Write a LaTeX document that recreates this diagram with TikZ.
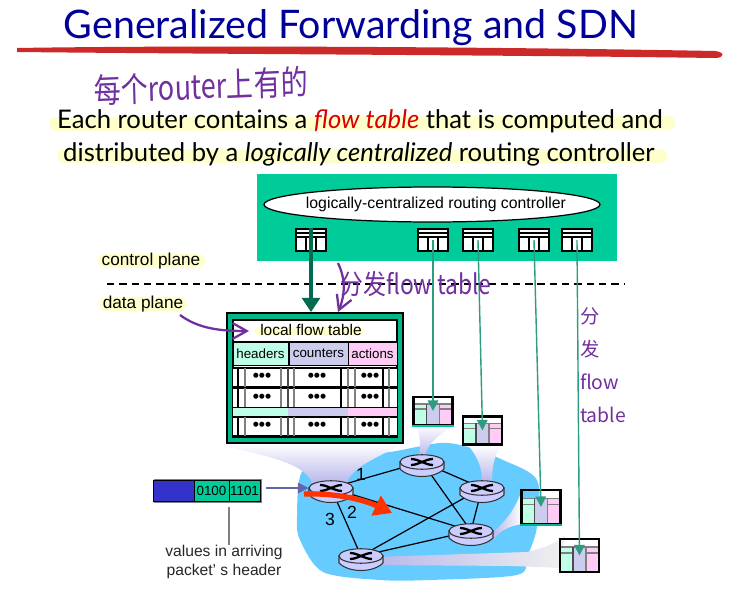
\documentclass[tikz,border=0pt]{standalone}
\usepackage{fontspec}
\setmainfont{Liberation Sans}
\newfontfamily\slidefont{Lato}
\newfontfamily\handfont{Noto Sans CJK SC}
\usepackage{xcolor}
\definecolor{titleblue}{RGB}{0,0,153}
\definecolor{strokered}{RGB}{204,41,41}
\definecolor{ctrlgreen}{RGB}{0,204,153}
\definecolor{flowgreen}{RGB}{0,183,138}
\definecolor{darkgreen}{RGB}{0,107,79}
\definecolor{thingreen}{RGB}{46,156,128}
\definecolor{mint}{RGB}{191,255,232}
\definecolor{lavender}{RGB}{204,204,238}
\definecolor{pinkcell}{RGB}{255,204,245}
\definecolor{cloudblue}{RGB}{102,204,255}
\definecolor{routerfill}{RGB}{204,204,255}
\definecolor{funnel}{RGB}{184,184,236}
\definecolor{marker}{RGB}{255,255,204}
\definecolor{hand}{RGB}{112,48,160}
\definecolor{pktblue}{RGB}{51,51,204}
\definecolor{flowred}{RGB}{255,51,0}
\usepackage{tikz}
\usetikzlibrary{
    shapes.geometric,
    arrows.meta,
    positioning,
    calc
}
\pgfdeclarelayer{cloud}
\pgfdeclarelayer{links}
\pgfsetlayers{cloud,links,main}

\begin{document}
\begin{tikzpicture}[
        x=0.02cm, y=0.02cm,
        slide/.style={font=\slidefont\fontsize{#1}{#1}\selectfont, inner sep=0},
        label/.style={font=\fontsize{#1}{#1}\selectfont, inner sep=0},
        highlight/.style={line width=8pt, line cap=round, marker},
        handtext/.style={font=\handfont\fontsize{#1}{#1}\selectfont, text=hand, inner sep=0},
        handarrow/.style={-{Straight Barb[length=8pt,width=9pt]}, line width=1.3pt, hand},
        headcell/.style={draw=black, inner sep=0, minimum height=0.46cm, font=\fontsize{7.6}{9}\selectfont},
        pktcell/.style={draw=black, fill=ctrlgreen, inner sep=0, minimum height=0.42cm, font=\fontsize{7.6}{9}\selectfont},
        push/.style={-{Triangle[length=6pt,width=6pt]}, line width=0.8pt, thingreen},
        link/.style={line width=0.7pt, black},
        ctrltable/.pic={
            \node[draw=black, fill=white, line width=0.7pt, inner sep=0, minimum width=0.6cm, minimum height=0.44cm] (-box) {};
            \draw[line width=0.7pt] (-15,7) -- (15,7);
            \draw[line width=0.7pt] (-15,3) -- (15,3);
            \draw[line width=0.7pt] (-5,3) -- (-5,-11);
            \draw[line width=0.7pt] (5,3) -- (5,-11);
        },
        smalltable/.pic={
            \fill[mint] (-19.5,7) rectangle (-6.5,-14);
            \fill[lavender] (-6.5,7) rectangle (6.5,-14);
            \fill[pinkcell] (6.5,7) rectangle (19.5,-14);
            \draw[gray, line width=0.8pt] (-19.5,7) -- (19.5,7);
            \draw[gray, line width=0.8pt] (-19.5,2) -- (-6.5,2);
            \draw[gray, line width=0.8pt] (6.5,2) -- (19.5,2);
            \draw[black!70, line width=0.8pt] (-6.5,7) -- (-6.5,-14);
            \draw[gray, line width=0.8pt] (6.5,7) -- (6.5,-14);
            \node[draw=black, line width=1.3pt, transform shape, inner sep=0, minimum width=0.78cm, minimum height=0.56cm] (-box) {};
        },
        flowrow/.pic={
            \fill[white] (0,0) rectangle (164,-19);
            \draw[black, line width=0.9pt] (0,0) -- (164,0);
            \draw[black, line width=0.9pt] (0,-19) -- (164,-19);
            \draw[black, line width=0.7pt] (5,0) -- (5,-19);
            \draw[gray, line width=1pt] (12,0) -- (12,-19);
            \draw[gray, line width=1pt] (48,0) -- (48,-19);
            \draw[black!70, line width=1pt] (55,0) -- (55,-19);
            \draw[gray, line width=0.7pt] (61,0) -- (61,-19);
            \draw[black, line width=0.7pt] (108,0) -- (108,-19);
            \draw[gray, line width=1pt] (115,0) -- (115,-19);
            \draw[gray, line width=1pt] (122,0) -- (122,-19);
            \draw[black, line width=0.7pt] (150,0) -- (150,-19);
            \draw[gray, line width=1pt] (156,0) -- (156,-19);
            \node[label=10, font=\bfseries\fontsize{10}{10}\selectfont] (-a) at (29,-9.5) {•••};
            \node[label=10, font=\bfseries\fontsize{10}{10}\selectfont] (-b) at (84,-9.5) {•••};
            \node[label=10, font=\bfseries\fontsize{10}{10}\selectfont] (-c) at (137,-9.5) {•••};
        },
        router/.pic={
            \draw[fill=routerfill, draw=black!80, line width=0.6pt] (-22,0) -- (-22,-7) .. controls (-12,-17) and (12,-17) .. (22,-7) -- (22,0) -- cycle;
            \node[ellipse, draw=black!80, fill=routerfill, line width=0.6pt, inner sep=0, minimum width=0.88cm, minimum height=0.29cm] (-top) {};
            \draw[line width=1.3pt] (-11,3) .. controls (-3,3) and (3,-3) .. (11,-3);
            \draw[line width=1.3pt] (-11,-3) .. controls (-3,-3) and (3,3) .. (11,3);
        }
    ]
        \useasboundingbox (0,0) rectangle (735,-598);

        % heading
        \fill[strokered] (17,-48) .. controls (200,-45) and (500,-47) .. (715,-51) .. controls (725,-52) and (725,-58) .. (715,-58) .. controls (500,-55) and (200,-54) .. (17,-52) -- cycle;
        \node[slide=22.4, text=titleblue] (title) at (351,-28) {Generalized Forwarding and SDN};

        % marker strokes under the text
        \draw[highlight] (56,-124) -- (668,-123);
        \draw[highlight] (64,-156) -- (660,-156);
        \draw[highlight] (105,-261) -- (198,-261);
        \draw[highlight] (106,-304) -- (180,-304);

        \node[slide=14.6] (lineone) at (360,-121) {Each router contains a \textcolor{red!85!black}{\itshape flow table} that is computed and};
        \node[slide=14.6] (linetwo) at (359,-154) {distributed by a {\itshape logically centralized} routing controller};
        \node[handtext=15.4, yscale=1.25, transform shape, rotate=2] (eachnote) at (201,-86) {每个router上有的};

        % controller box
        \node[fill=ctrlgreen, inner sep=0, minimum width=7.2cm, minimum height=1.74cm] (ctrlbox) at (437,-217.5) {};
        \node[ellipse, draw=black, fill=white, line width=0.7pt, inner sep=0, minimum width=6.72cm, minimum height=0.7cm] (ctrl) at (432,-204.5) {};
        \node[label=9] (ctrltext) at (436,-204) {logically-centralized routing controller};

        \pic (cone) at (311,-240) {ctrltable};
        \pic (ctwo) at (433,-240) {ctrltable};
        \pic (cthree) at (478,-240) {ctrltable};
        \pic (cfour) at (534,-240) {ctrltable};
        \pic (cfive) at (577,-240) {ctrltable};

        % plane labels
        \node[label=9.8] (ctrlplane) at (151,-261) {control plane};
        \node[label=9.8] (dataplane) at (143,-304) {data plane};
        \coordinate (dashleft) at (107,-284);
        \coordinate (dashright) at (624,-284);
        \draw[dashed, dash pattern=on 4.2pt off 2.8pt, line width=0.6pt] (dashleft) -- (dashright);

        % local flow table
        \node[draw=black, fill=flowgreen, line width=1.1pt, inner sep=0, minimum width=3.52cm, minimum height=2.6cm] (flowbox) at (315,-378) {};
        \node[draw=black, fill=white, line width=1.1pt, inner sep=0, minimum width=3.28cm, minimum height=2.34cm] (flowinner) at (315,-378.5) {};
        \draw[highlight, line width=5pt] (259,-331) -- (360,-331);
        \node[label=8.8] (localtitle) at (311,-330) {local flow table};
        \draw[line width=0.8pt] (233,-341.5) -- (397,-341.5);
        \node[headcell, fill=mint, minimum width=1.1cm] (headers) at (260.5,-353.5) {headers};
        \node[headcell, fill=lavender, minimum width=1.18cm] (counters) at (318.5,-353.5) {counters};
        \node[headcell, fill=pinkcell, minimum width=0.98cm] (actions) at (372.5,-353.5) {actions};
        \pic (rowone) at (233,-368) {flowrow};
        \pic (rowtwo) at (233,-388.5) {flowrow};
        \fill[mint] (233,-408) rectangle (288,-417);
        \fill[lavender] (288,-408) rectangle (348,-417);
        \fill[pinkcell] (348,-408) rectangle (397,-417);
        \pic (rowthree) at (233,-417) {flowrow};

        % tables at the other routers
        \pic (ttwo) at (433,-411) {smalltable};
        \pic (tthree) at (482.5,-430.5) {smalltable};
        \pic[yscale=1.2, transform shape] (tfour) at (541,-507) {smalltable};
        \pic[yscale=1.2, transform shape] (tfive) at (579.5,-555.5) {smalltable};
        \draw[ctrlgreen, line width=1pt] (ttwo-box.south west) -- (ttwo-box.south east);
        \draw[flowgreen, line width=1pt] (tfour-box.south west) -- (tfour-box.south east);

        % network
        \begin{pgfonlayer}{cloud}
            \fill[cloudblue] plot[smooth cycle] coordinates {(297,-517) (303,-470) (345,-456) (390,-452) (440,-443) (468,-447) (503,-460) (537,-480) (537,-527) (527,-557) (517,-575) (430,-580) (380,-580) (323,-572) (300,-540)};
            \shade[top color=white, bottom color=funnel] (213,-443) .. controls (260,-455) and (305,-462) .. (312,-483) -- (347,-483) .. controls (352,-465) and (385,-455) .. (403,-443) -- cycle;
            \shade[top color=white, bottom color=funnel] (416,-425) .. controls (420,-435) and (421,-445) .. (419,-456) -- (425,-456) .. controls (428,-442) and (440,-435) .. (452,-426) -- cycle;
            \shade[top color=white, bottom color=funnel] (468,-445) .. controls (476,-455) and (482,-465) .. (482,-481) -- (492,-481) .. controls (492,-465) and (495,-455) .. (501,-445) -- cycle;
            \shade[left color=funnel, right color=white] (493,-532) .. controls (505,-522) and (515,-510) .. (522,-490) -- (522,-524) .. controls (510,-526) and (500,-530) .. (493,-540) -- cycle;
            \shade[left color=funnel, right color=gray!12] (375,-557) -- (527,-552) .. controls (545,-548) and (558,-542) .. (565,-535) -- (560,-568) -- (513,-566) -- (375,-565) -- cycle;
        \end{pgfonlayer}

        \pic (rleft) at (331,-488) {router};
        \pic (rtop) at (422,-462) {router};
        \pic (rright) at (482,-488) {router};
        \pic (rmid) at (471,-531) {router};
        \pic (rbot) at (361,-556) {router};

        \begin{pgfonlayer}{links}
            \draw[link] (rleft-top.center) -- (rtop-top.center);
            \draw[link] (rleft-top.center) -- (rmid-top.center);
            \draw[link] (rleft-top.center) -- (rbot-top.center);
            \draw[link] (rtop-top.center) -- (rright-top.center);
            \draw[link] (rtop-top.center) -- (rmid-top.center);
            \draw[link] (rright-top.center) -- (rmid-top.center);
            \draw[link] (rright-top.center) -- (rbot-top.center);
            \draw[link] (rmid-top.center) -- (rbot-top.center);
        \end{pgfonlayer}

        \node[label=10] (portone) at (361,-474) {1};
        \node[label=10] (porttwo) at (352,-512) {2};
        \node[label=10] (portthree) at (330,-519) {3};

        % packet
        \node[fill=gray, inner sep=0, minimum width=2.18cm, minimum height=0.48cm] (pktback) at (208,-491) {};
        \node[draw=black, fill=pktblue, inner sep=0, minimum width=0.82cm, minimum height=0.42cm] (pktblue) at (174,-491) {};
        \node[pktcell, minimum width=0.7cm] (pktone) at (211.5,-491) {0100};
        \node[pktcell, minimum width=0.62cm] (pkttwo) at (244.5,-491) {1101};
        \node[label=8.9, align=center, text=black!85, font=\fontsize{8.9}{10.8}\selectfont] (values) at (224,-562) {values in arriving\\packet’ s header};
        \draw[gray, line width=1.2pt] ([yshift=-3pt]pktone.south east) -- (pktone.south east |- values.north);

        % arrows
        \draw[-{Triangle[length=6pt,width=6pt]}, line width=0.9pt, black!35!pktblue!70!white] (pktback.east) ++(3,3) coordinate (pktout) -- (pktout -| rleft-top.west);
        \draw[-{Triangle[length=10pt,width=12pt]}, line width=3pt, flowred] (304,-494) coordinate (flowstart) .. controls (335,-493) and (362,-499) .. (392,-513) coordinate (flowend);

        \draw[-{Triangle[length=8pt,width=10pt]}, line width=2.8pt, darkgreen] (cone-box.north) -- (flowbox.north -| cone-box.north);
        \draw[push] (ctwo-box.center) -- (ttwo-box.center);
        \draw[push] (cthree-box.center) -- (tthree-box.center);
        \draw[push] (cfour-box.center) -- (tfour-box.center);
        \draw[push] (cfive-box.center) -- (tfive-box.center);

        % notes
        \coordinate (notestart) at (338,-263);
        \coordinate (datanote) at (180,-315);
        \coordinate (localtip) at (249,-331);
        \draw[handarrow] (notestart) .. controls (346,-280) and (345,-295) .. (flowbox.north -| notestart);
        \draw[handarrow] (datanote) .. controls (200,-330) and (225,-331) .. (localtip);
        \node[handtext=13, yscale=1.2, transform shape] (pushnote) at (416,-284) {分发flow table};
        \node[handtext=11, align=left, font=\handfont\fontsize{11}{18.7}\selectfont] (sidenote) at (603,-365) {分\\发\\flow\\table};
    \end{tikzpicture}
\end{document}
